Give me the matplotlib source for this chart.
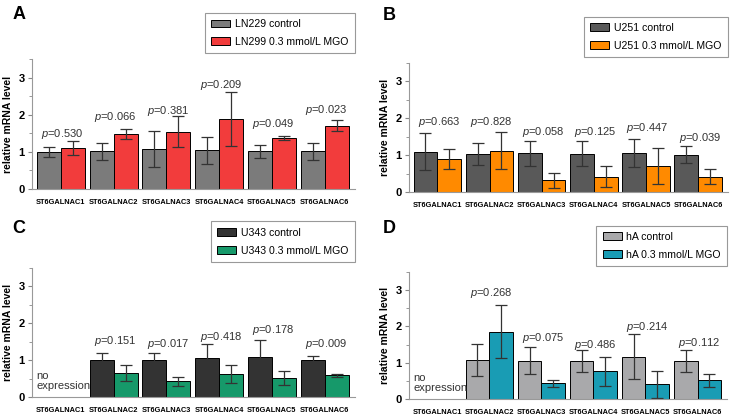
import matplotlib
matplotlib.use("Agg")
import matplotlib.pyplot as plt
import numpy as np

plt.rcParams['font.family'] = ['Liberation Sans', 'DejaVu Sans']
plt.rcParams['mathtext.fontset'] = 'custom'
plt.rcParams['mathtext.it'] = 'Liberation Sans:italic'
plt.rcParams['mathtext.rm'] = 'Liberation Sans'

genes = ['ST6GALNAC1', 'ST6GALNAC2', 'ST6GALNAC3', 'ST6GALNAC4', 'ST6GALNAC5', 'ST6GALNAC6']

# A - LN229
ln229_ctrl = [1.00, 1.02, 1.08, 1.04, 1.01, 1.02]
ln229_ctrl_err = [0.13, 0.23, 0.49, 0.36, 0.18, 0.23]
ln229_mgo = [1.10, 1.48, 1.54, 1.89, 1.37, 1.70]
ln229_mgo_err = [0.18, 0.13, 0.42, 0.72, 0.045, 0.15]
ln229_p = ['0.530', '0.066', '0.381', '0.209', '0.049', '0.023']
ln229_p_y = [1.48, 1.95, 2.11, 2.80, 1.74, 2.13]

# B - U251
u251_ctrl = [1.10, 1.04, 1.05, 1.04, 1.06, 1.01]
u251_ctrl_err = [0.51, 0.29, 0.34, 0.34, 0.38, 0.23]
u251_mgo = [0.90, 1.13, 0.32, 0.42, 0.70, 0.42]
u251_mgo_err = [0.26, 0.49, 0.21, 0.29, 0.49, 0.21]
u251_p = ['0.663', '0.828', '0.058', '0.125', '0.447', '0.039']
u251_p_y = [1.90, 1.90, 1.62, 1.62, 1.73, 1.46]

# C - U343
u343_ctrl = [np.nan, 1.02, 1.02, 1.07, 1.08, 1.00]
u343_ctrl_err = [np.nan, 0.18, 0.18, 0.36, 0.47, 0.12]
u343_mgo = [np.nan, 0.66, 0.43, 0.63, 0.52, 0.60]
u343_mgo_err = [np.nan, 0.22, 0.12, 0.25, 0.18, 0.045]
u343_p = [None, '0.151', '0.017', '0.418', '0.178', '0.009']
u343_p_y = [None, 1.53, 1.44, 1.64, 1.83, 1.44]

# D - hA
ha_ctrl = [np.nan, 1.08, 1.06, 1.05, 1.17, 1.05]
ha_ctrl_err = [np.nan, 0.44, 0.36, 0.30, 0.63, 0.31]
ha_mgo = [np.nan, 1.85, 0.43, 0.76, 0.41, 0.52]
ha_mgo_err = [np.nan, 0.73, 0.10, 0.41, 0.37, 0.18]
ha_p = [None, '0.268', '0.075', '0.486', '0.214', '0.112']
ha_p_y = [None, 2.91, 1.69, 1.50, 1.98, 1.55]

panels = [
    ('A', [0.043, 0.547, 0.437, 0.311], (0.017, 0.966), ln229_ctrl, ln229_ctrl_err, ln229_mgo, ln229_mgo_err,
     ln229_p, ln229_p_y, 'LN229 control', 'LN299 0.3 mmol/L MGO', '#7b7b7b', '#f23c3c'),
    ('B', [0.553, 0.539, 0.432, 0.310], (0.518, 0.964), u251_ctrl, u251_ctrl_err, u251_mgo, u251_mgo_err,
     u251_p, u251_p_y, 'U251 control', 'U251 0.3 mmol/L MGO', '#595959', '#ff8a00'),
    ('C', [0.043, 0.047, 0.437, 0.311], (0.017, 0.453), u343_ctrl, u343_ctrl_err, u343_mgo, u343_mgo_err,
     u343_p, u343_p_y, 'U343 control', 'U343 0.3 mmol/L MGO', '#333333', '#16996a'),
    ('D', [0.553, 0.043, 0.431, 0.305], (0.518, 0.451), ha_ctrl, ha_ctrl_err, ha_mgo, ha_mgo_err,
     ha_p, ha_p_y, 'hA control', 'hA 0.3 mmol/L MGO', '#a9a9ab', '#199cb4'),
]

fig = plt.figure(figsize=(7.39, 4.17), dpi=100)
x = np.arange(len(genes))
w = 0.456

for letter, rect, lpos, ctrl, ctrl_err, mgo, mgo_err, pv, py, lab1, lab2, c1, c2 in panels:
    ax = fig.add_axes(rect)
    b1 = ax.bar(x - w / 2, ctrl, w, color=c1, edgecolor='black', linewidth=0.7, label=lab1)
    b2 = ax.bar(x + w / 2, mgo, w, color=c2, edgecolor='black', linewidth=0.7, label=lab2)
    ax.errorbar(x - w / 2, ctrl, yerr=ctrl_err, fmt='none', ecolor='#333333',
                elinewidth=0.9, capsize=4.5, capthick=0.9)
    ax.errorbar(x + w / 2, mgo, yerr=mgo_err, fmt='none', ecolor='#333333',
                elinewidth=0.9, capsize=4.5, capthick=0.9)
    for i in range(len(genes)):
        if pv[i] is None:
            ax.text(x[i] - 0.46, 0.45, 'no\nexpression', ha='left', va='center',
                    fontsize=8, color='#333333', linespacing=0.95)
            continue
        ax.text(x[i] + 0.03, py[i], r'$p$=' + pv[i], ha='center', va='center',
                fontsize=8, color='#333333')
    ax.set_xlim(-0.55, 5.57)
    ax.set_ylim(0, 3.5)
    ax.set_xticks(x)
    ax.set_xticklabels(genes, fontsize=5.3, fontweight='bold')
    ax.set_yticks([0, 1, 2, 3])
    ax.set_yticklabels(['0', '1', '2', '3'], fontsize=8, fontweight='bold')
    ax.set_yticks([0.5, 1.5, 2.5, 3.5], minor=True)
    ax.tick_params(axis='x', length=0, pad=7)
    ax.tick_params(axis='y', which='major', length=3, color='#888888', pad=2)
    ax.tick_params(axis='y', which='minor', length=2, color='#888888')
    ax.set_ylabel('relative mRNA level', fontsize=7.5, fontweight='bold', labelpad=4)
    ax.spines['top'].set_visible(False)
    ax.spines['right'].set_visible(False)
    ax.spines['left'].set_color('#999999')
    ax.spines['bottom'].set_color('#999999')
    leg = ax.legend(handles=[b1, b2], loc='lower right', bbox_to_anchor=(1.0, 1.045),
                    fontsize=7.6, fancybox=False, edgecolor='#999999', framealpha=1,
                    handlelength=1.8, handleheight=0.75, labelspacing=0.75,
                    borderpad=0.6, handletextpad=0.45, borderaxespad=0)
    leg.get_frame().set_linewidth(0.8)
    fig.text(lpos[0], lpos[1], letter, fontsize=13, fontweight='bold', ha='left', va='center')

fig.savefig('out.png', dpi=100)
